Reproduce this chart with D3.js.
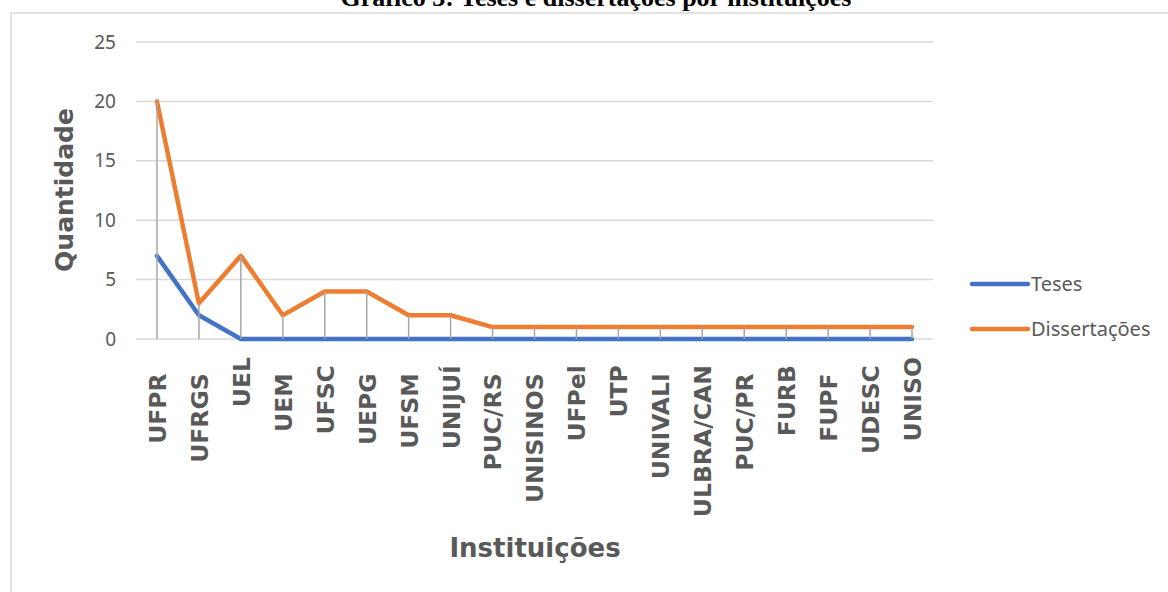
<!DOCTYPE html>
<html>
<head>
<meta charset="utf-8">
<script src="https://cdn.jsdelivr.net/npm/d3@7"></script>
<style>
  html, body { margin: 0; padding: 0; background: #ffffff; }
  svg { display: block; }
</style>
</head>
<body>
<svg id="chart" width="1168" height="592"></svg>
<script>
// ---- data ----
const categories = ["UFPR  ", "UFRGS  ", "UEL", "UEM  ", "UFSC ", "UEPG  ", "UFSM  ", "UNIJUÍ ", "PUC/RS  ", "UNISINOS  ", "UFPel ", "UTP ", "UNIVALI  ", "ULBRA/CAN ", "PUC/PR  ", "FURB ", "FUPF  ", "UDESC ", "UNISO"];
const teses =        [7, 2, 0, 0, 0, 0, 0, 0, 0, 0, 0, 0, 0, 0, 0, 0, 0, 0, 0];
const dissertacoes = [20, 3, 7, 2, 4, 4, 2, 2, 1, 1, 1, 1, 1, 1, 1, 1, 1, 1, 1];
const yTicks = [0, 5, 10, 15, 20, 25];
const seriesNames = ["Teses", "Dissertações"];
const titleText = "Gráfico 3: Teses e dissertações por instituições";
const yTitle = "Quantidade";
const xTitle = "Instituições";

const colors = ["#4472C4", "#ED7D31"];
const svg = d3.select("#chart");

// frame
svg.append("path")
  .attr("d", "M11,600 L11,13 L1175,13")
  .attr("fill", "none").attr("stroke", "#d9d9d9").attr("stroke-width", 1.5);

// title (clipped at top)
svg.append("text")
  .attr("x", 596).attr("y", 6)
  .attr("text-anchor", "middle")
  .attr("font-family", "'Liberation Serif', 'Times New Roman', serif")
  .attr("font-weight", "bold")
  .attr("font-size", 26)
  .attr("fill", "#000")
  .text(titleText);

const x = d3.scaleBand().domain(categories).range([136, 933]);
const y = d3.scaleLinear().domain([0, 25]).range([339, 42]);
const cx = d => x(d) + x.bandwidth() / 2;

// gridlines
svg.append("g").selectAll("line").data(yTicks).join("line")
  .attr("x1", 136).attr("x2", 933)
  .attr("y1", d => y(d)).attr("y2", d => y(d))
  .attr("stroke", "#d9d9d9").attr("stroke-width", 1.5);

// y axis labels
const yAxis = svg.append("g").attr("transform", "translate(116,0)")
  .call(d3.axisLeft(y).tickValues(yTicks).tickSize(0).tickPadding(0));
yAxis.select(".domain").remove();
yAxis.selectAll("text")
  .attr("font-family", "'Noto Sans', 'Open Sans', sans-serif")
  .attr("font-size", 19)
  .attr("fill", "#595959");

// x axis labels
const xAxis = svg.append("g").attr("transform", "translate(0,339)")
  .call(d3.axisBottom(x).tickSize(0).tickPadding(0));
xAxis.select(".domain").remove();
xAxis.selectAll("text")
  .attr("transform", "rotate(-90)")
  .attr("text-anchor", "end")
  .attr("x", -18).attr("y", 0).attr("dy", "0.38em")
  .style("white-space", "pre")
  .attr("font-family", "'DejaVu Sans', sans-serif")
  .attr("font-weight", "bold")
  .attr("font-size", 23.5)
  .attr("fill", "#595959");

// lines
const line = d3.line().x((d, i) => cx(categories[i])).y(d => y(d));
[teses, dissertacoes].forEach((s, k) => {
  svg.append("path").datum(s)
    .attr("d", line)
    .attr("fill", "none")
    .attr("stroke", colors[k])
    .attr("stroke-width", 4.5)
    .attr("stroke-linecap", "round")
    .attr("stroke-linejoin", "round");
});

// drop lines
svg.append("g").selectAll("line").data(categories).join("line")
  .attr("x1", d => cx(d)).attr("x2", d => cx(d))
  .attr("y1", (d, i) => y(Math.max(teses[i], dissertacoes[i])))
  .attr("y2", y(0))
  .attr("stroke", "#a6a6a6").attr("stroke-width", 1.5);

// axis titles
svg.append("text")
  .attr("transform", "translate(73,190) rotate(-90)")
  .attr("text-anchor", "middle")
  .attr("font-family", "'DejaVu Sans', sans-serif")
  .attr("font-weight", "bold")
  .attr("font-size", 25)
  .attr("fill", "#595959")
  .text(yTitle);

svg.append("text")
  .attr("x", 535).attr("y", 557)
  .attr("text-anchor", "middle")
  .attr("font-family", "'DejaVu Sans', sans-serif")
  .attr("font-weight", "bold")
  .attr("font-size", 26)
  .attr("fill", "#595959")
  .text(xTitle);

// legend
const legendY = [284, 329];
const lg = svg.append("g");
seriesNames.forEach((name, k) => {
  lg.append("line")
    .attr("x1", 972).attr("x2", 1028)
    .attr("y1", legendY[k]).attr("y2", legendY[k])
    .attr("stroke", colors[k]).attr("stroke-width", 4.5)
    .attr("stroke-linecap", "round");
  lg.append("text")
    .attr("x", 1031).attr("y", legendY[k]).attr("dy", "0.35em")
    .attr("font-family", "'Noto Sans', 'Open Sans', sans-serif")
    .attr("font-size", 20)
    .attr("fill", "#595959")
    .text(name);
});
</script>
</body>
</html>
